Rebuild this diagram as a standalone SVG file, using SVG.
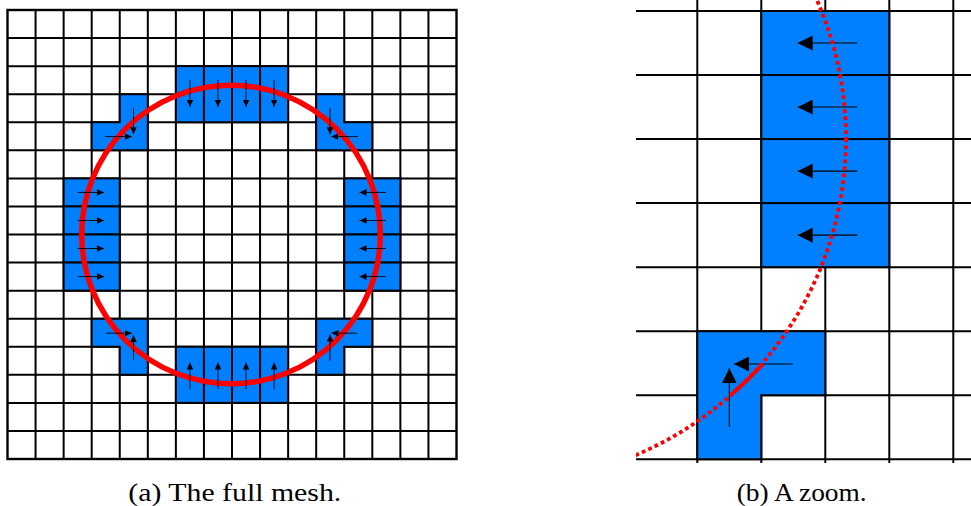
<svg xmlns="http://www.w3.org/2000/svg" width="971" height="506" viewBox="0 0 971 506">
<style>
.grid{fill:none;stroke:#000;stroke-width:2}
.cell{fill:#0080ff;stroke:#000;stroke-width:2;stroke-linejoin:miter}
.ifc{fill:none;stroke:#ff0000}
.arr{fill:none;stroke:#000;stroke-width:0.9}
.arrb{fill:none;stroke:#000;stroke-width:1.1}
</style>
<defs>
<marker id="ah" markerUnits="userSpaceOnUse" markerWidth="7" markerHeight="6.6" viewBox="0 0 7 6.6" refX="7" refY="3.3" orient="auto"><path d="M0,0 L7,3.3 L0,6.6 z" fill="#000"/></marker>
<marker id="ahb" markerUnits="userSpaceOnUse" markerWidth="15" markerHeight="15" viewBox="0 0 15 15" refX="15" refY="7.5" orient="auto"><path d="M0,0 L15,7.5 L0,15 z" fill="#000"/></marker>
<clipPath id="clipb"><rect x="636" y="0" width="335" height="461"/></clipPath>
</defs>

<g id="panel-a">
<g id="grid-a">
<path class="grid" d="M35.56 10V459 M63.63 10V459 M91.69 10V459 M119.75 10V459 M147.81 10V459 M175.88 10V459 M203.94 10V459 M232 10V459 M260.06 10V459 M288.13 10V459 M316.19 10V459 M344.25 10V459 M372.31 10V459 M400.38 10V459 M428.44 10V459 M7.5 38.06H456.5 M7.5 66.13H456.5 M7.5 94.19H456.5 M7.5 122.25H456.5 M7.5 150.31H456.5 M7.5 178.38H456.5 M7.5 206.44H456.5 M7.5 234.5H456.5 M7.5 262.56H456.5 M7.5 290.63H456.5 M7.5 318.69H456.5 M7.5 346.75H456.5 M7.5 374.81H456.5 M7.5 402.88H456.5 M7.5 430.94H456.5"/>
<rect class="grid" x="7.5" y="10" width="449" height="449" style="stroke-width:2.4"/>
</g>
<g id="cut-cells-a">
<g id="block-top">
<rect class="cell" x="175.88" y="66.13" width="28.06" height="56.12"/>
<rect class="cell" x="203.94" y="66.13" width="28.06" height="56.12"/>
<rect class="cell" x="232" y="66.13" width="28.06" height="56.12"/>
<rect class="cell" x="260.06" y="66.13" width="28.07" height="56.12"/>
</g>
<g id="block-bottom">
<rect class="cell" x="175.88" y="346.75" width="28.06" height="56.13"/>
<rect class="cell" x="203.94" y="346.75" width="28.06" height="56.13"/>
<rect class="cell" x="232" y="346.75" width="28.06" height="56.13"/>
<rect class="cell" x="260.06" y="346.75" width="28.07" height="56.13"/>
</g>
<g id="block-left">
<rect class="cell" x="63.63" y="178.38" width="56.12" height="28.06"/>
<rect class="cell" x="63.63" y="206.44" width="56.12" height="28.06"/>
<rect class="cell" x="63.63" y="234.5" width="56.12" height="28.06"/>
<rect class="cell" x="63.63" y="262.56" width="56.12" height="28.07"/>
</g>
<g id="block-right">
<rect class="cell" x="344.25" y="178.38" width="56.13" height="28.06"/>
<rect class="cell" x="344.25" y="206.44" width="56.13" height="28.06"/>
<rect class="cell" x="344.25" y="234.5" width="56.13" height="28.06"/>
<rect class="cell" x="344.25" y="262.56" width="56.13" height="28.07"/>
</g>
<polygon id="l-ul" class="cell" points="119.75,94.19 147.81,94.19 147.81,150.31 91.69,150.31 91.69,122.25 119.75,122.25"/>
<polygon id="l-ur" class="cell" points="316.19,94.19 344.25,94.19 344.25,122.25 372.31,122.25 372.31,150.31 316.19,150.31"/>
<polygon id="l-ll" class="cell" points="91.69,318.69 147.81,318.69 147.81,374.81 119.75,374.81 119.75,346.75 91.69,346.75"/>
<polygon id="l-lr" class="cell" points="316.19,318.69 372.31,318.69 372.31,346.75 344.25,346.75 344.25,374.81 316.19,374.81"/>
</g>
<circle id="interface-a" class="ifc" cx="231" cy="234.5" r="149.3" style="stroke-width:5.5"/>
<g id="arrows-a">
<g class="arr" marker-end="url(#ah)">
<path d="M189.91 80V106.7"/><path d="M217.97 80V106.7"/><path d="M246.03 80V106.7"/><path d="M274.09 80V106.7"/>
<path d="M189.91 389V362.5"/><path d="M217.97 389V362.5"/><path d="M246.03 389V362.5"/><path d="M274.09 389V362.5"/>
<path d="M77.7 192.41H104"/><path d="M77.7 220.47H104"/><path d="M77.7 248.53H104"/><path d="M77.7 276.59H104"/>
<path d="M386 192.41H359.5"/><path d="M386 220.47H359.5"/><path d="M386 248.53H359.5"/><path d="M386 276.59H359.5"/>
<path d="M133.5 108V134.3"/><path d="M105 136.6H131.7"/>
<path d="M330 108V134.3"/><path d="M358 136.6H331.3"/>
<path d="M106 333.2H131.7"/><path d="M133.5 360.7V335"/>
<path d="M330 360.7V334.5"/><path d="M357 333.2H331.5"/>
</g>
</g>
</g>

<g id="panel-b">
<g id="grid-b">
<path class="grid" d="M697.3 0V463 M761.3 0V463 M825.3 0V463 M889.3 0V463 M953.3 0V463 M636 11H971 M636 75.04H971 M636 139.08H971 M636 203.12H971 M636 267.16H971 M636 331.2H971 M636 395.24H971 M636 459.3H971"/>
</g>
<g id="cut-cells-b">
<rect class="cell" x="761.3" y="11" width="128" height="64.04"/>
<rect class="cell" x="761.3" y="75.04" width="128" height="64.04"/>
<rect class="cell" x="761.3" y="139.08" width="128" height="64.04"/>
<rect class="cell" x="761.3" y="203.12" width="128" height="64.04"/>
<polygon id="l-lr-zoom" class="cell" points="697.3,331.2 825.3,331.2 825.3,395.24 761.3,395.24 761.3,459.3 697.3,459.3"/>
</g>
<g id="arrows-b">
<g class="arrb" marker-end="url(#ahb)">
<path d="M857.3 43.02H797.7"/><path d="M857.3 107.06H797.7"/><path d="M857.3 171.1H797.7"/><path d="M857.3 235.14H797.7"/>
<path d="M792.7 364H734"/><path d="M729.3 426.7V368.3"/>
</g>
</g>
<g id="interface-b" clip-path="url(#clipb)">
<circle class="ifc" cx="502.5" cy="138.5" r="343.5" style="stroke-width:3.8;stroke-dasharray:3.8 3.2"/>
<path class="ifc" d="M730 395.7 A343.5 343.5 0 0 0 762.7 364.3" style="stroke-width:4"/>
</g>
</g>

<g id="captions" font-family="'Liberation Serif', 'Times New Roman', serif" font-size="25.5" fill="#000">
<text x="128.3" y="500.5" textLength="213" lengthAdjust="spacingAndGlyphs">(a) The full mesh.</text>
<text x="736.7" y="500.5" textLength="130" lengthAdjust="spacingAndGlyphs">(b) A zoom.</text>
</g>
</svg>
